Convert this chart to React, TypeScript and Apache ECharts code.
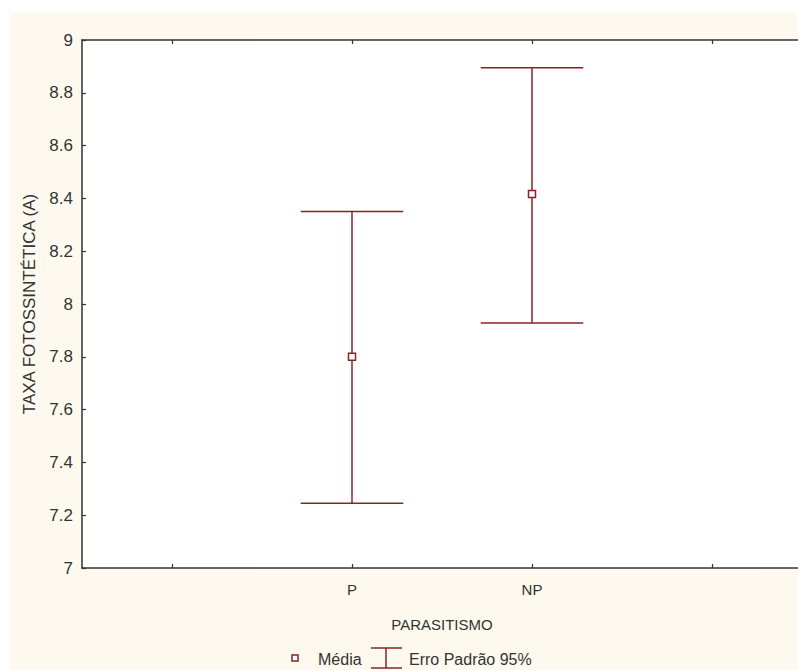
import React, { useEffect, useRef } from "react";
import * as echarts from "echarts";

// Group means with 95% confidence limits, photosynthetic rate by parasitism
const categories = ["", "P", "NP", ""];
const means = [null, 7.8, 8.417, null];
const lower = [null, 7.245, 7.928, null];
const upper = [null, 8.35, 8.895, null];
const yTicks = { min: 7, max: 9, interval: 0.2 };

const RED = "#862424";
const INK = "#333333";
const FONT = "'Liberation Sans', Arial, sans-serif";

export default function App() {
  const ref = useRef<HTMLDivElement>(null);

  useEffect(() => {
    document.documentElement.style.overflow = "hidden";
    document.body.style.overflow = "hidden";
    const chart = echarts.init(ref.current!, undefined, { renderer: "svg" });

    const meanData = means
      .map((m, i) => (m == null ? null : [i, m]))
      .filter((d) => d != null);
    const errData = lower
      .map((lo, i) => (lo == null || upper[i] == null ? null : [i, lo, upper[i]]))
      .filter((d) => d != null);

    const axisLine = { show: true, lineStyle: { color: INK, width: 1.5 } };
    const tick = { show: true, inside: true, length: 4, lineStyle: { color: INK, width: 1.2 } };

    chart.setOption({
      animation: false,
      backgroundColor: "#ffffff",
      textStyle: { fontFamily: FONT },
      graphic: [
        {
          type: "rect",
          z: -10,
          silent: true,
          shape: { x: 10, y: 13, width: 820, height: 680 },
          style: { fill: "#fdf9ee" },
        },
        // legend
        {
          type: "rect",
          shape: { x: 292, y: 655, width: 6, height: 6 },
          style: { fill: "#ffffff", stroke: RED, lineWidth: 1.5 },
        },
        {
          type: "text",
          x: 318,
          y: 659,
          style: { text: "Média", fill: INK, font: `16px ${FONT}`, textVerticalAlign: "middle" },
        },
        {
          type: "line",
          shape: { x1: 371, y1: 648, x2: 402, y2: 648 },
          style: { stroke: RED, lineWidth: 1.5 },
        },
        {
          type: "line",
          shape: { x1: 386, y1: 648, x2: 386, y2: 668 },
          style: { stroke: RED, lineWidth: 1.5 },
        },
        {
          type: "line",
          shape: { x1: 371, y1: 668, x2: 402, y2: 668 },
          style: { stroke: RED, lineWidth: 1.5 },
        },
        {
          type: "text",
          x: 409,
          y: 659,
          style: { text: "Erro Padrão 95%", fill: INK, font: `16px ${FONT}`, textVerticalAlign: "middle" },
        },
      ],
      grid: {
        left: 82,
        top: 40,
        width: 720,
        height: 528,
        show: true,
        backgroundColor: "#ffffff",
        borderWidth: 0,
      },
      xAxis: [
        {
          type: "category",
          data: categories,
          position: "bottom",
          boundaryGap: true,
          axisLine,
          axisTick: { ...tick, alignWithLabel: true },
          axisLabel: { color: INK, fontSize: 15, margin: 14, fontFamily: FONT },
          name: "PARASITISMO",
          nameLocation: "middle",
          nameGap: 49,
          nameTextStyle: { color: INK, fontSize: 15, fontFamily: FONT },
          splitLine: { show: false },
        },
        {
          type: "category",
          data: categories,
          position: "top",
          boundaryGap: true,
          axisLine,
          axisTick: { ...tick, alignWithLabel: true },
          axisLabel: { show: false },
          splitLine: { show: false },
        },
      ],
      yAxis: [
        {
          type: "value",
          position: "left",
          min: yTicks.min,
          max: yTicks.max,
          interval: yTicks.interval,
          axisLine,
          axisTick: tick,
          axisLabel: { color: INK, fontSize: 17, margin: 9, fontFamily: FONT },
          splitLine: { show: false },
          name: "TAXA FOTOSSINTÉTICA (A)",
          nameLocation: "middle",
          nameRotate: 90,
          nameGap: 44,
          nameTextStyle: { color: INK, fontSize: 17, fontFamily: FONT },
        },
        {
          type: "value",
          position: "right",
          min: yTicks.min,
          max: yTicks.max,
          interval: yTicks.interval,
          axisLine,
          axisTick: tick,
          axisLabel: { show: false },
          splitLine: { show: false },
        },
      ],
      series: [
        {
          name: "Erro Padrão 95%",
          type: "custom",
          xAxisIndex: 0,
          yAxisIndex: 0,
          data: errData,
          encode: { x: 0, y: [1, 2] },
          renderItem: (params: any, api: any) => {
            const x = api.value(0);
            const lo = api.coord([x, api.value(1)]);
            const hi = api.coord([x, api.value(2)]);
            const half = api.size([1, 0])[0] * 0.285;
            const style = { stroke: RED, lineWidth: 1.5 };
            return {
              type: "group",
              children: [
                { type: "line", shape: { x1: hi[0], y1: hi[1], x2: lo[0], y2: lo[1] }, style },
                { type: "line", shape: { x1: hi[0] - half, y1: hi[1], x2: hi[0] + half, y2: hi[1] }, style },
                { type: "line", shape: { x1: lo[0] - half, y1: lo[1], x2: lo[0] + half, y2: lo[1] }, style },
              ],
            };
          },
          z: 2,
        },
        {
          name: "Média",
          type: "scatter",
          xAxisIndex: 0,
          yAxisIndex: 0,
          data: meanData,
          symbol: "rect",
          symbolSize: 7,
          itemStyle: { color: "#ffffff", borderColor: RED, borderWidth: 1.5, opacity: 1 },
          z: 3,
        },
      ],
    });

    return () => chart.dispose();
  }, []);

  return (
    <div
      ref={ref}
      style={{ position: "fixed", left: 0, top: 0, width: 810, height: 670 }}
    />
  );
}
